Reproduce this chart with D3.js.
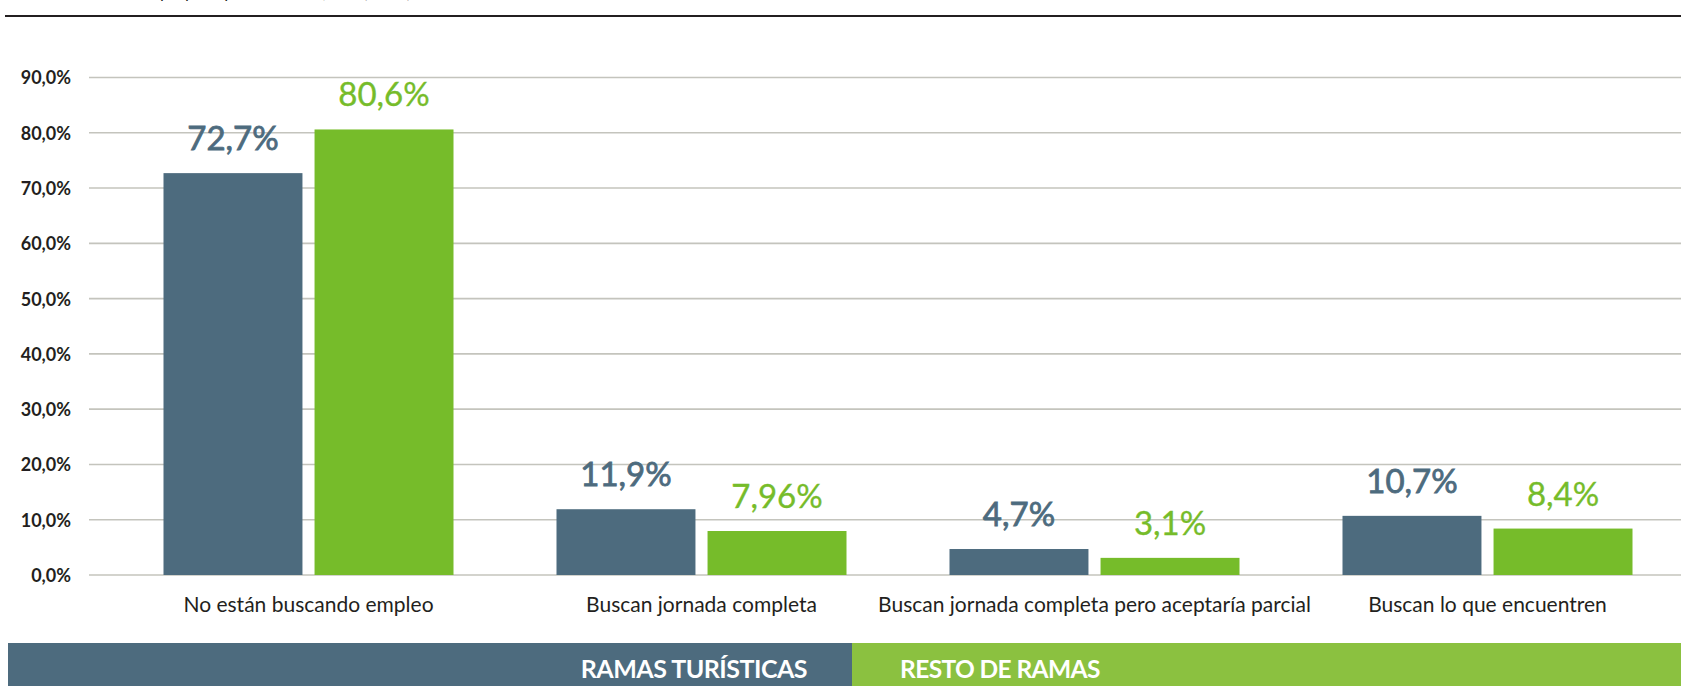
<!DOCTYPE html>
<html><head><meta charset="utf-8">
<script src="https://cdn.jsdelivr.net/npm/d3@7"></script>
<style>html,body{margin:0;padding:0;background:#fff;overflow:hidden}svg{display:block}</style>
</head><body><div id="chart"></div>
<script>
const categories = ["No están buscando empleo","Buscan jornada completa","Buscan jornada completa pero aceptaría parcial","Buscan lo que encuentren"];
const seriesNames = ["RAMAS TURÍSTICAS","RESTO DE RAMAS"];
const turisticas = [72.7, 11.9, 4.7, 10.7];
const resto = [80.6, 7.96, 3.1, 8.4];
const valueLabelsTur = ["72,7%","11,9%","4,7%","10,7%"];
const valueLabelsResto = ["80,6%","7,96%","3,1%","8,4%"];
const yTicks = [0,10,20,30,40,50,60,70,80,90];
const sourceText = "Fuente: Elaboración propia a partir de EPA, INE (2023)";

const W = 1681, H = 686;
const barColors = ["#4d6b7e","#76bc2a"];
const legendColors = ["#4d6b7e","#8bc140"];
const svg = d3.select("#chart").append("svg").attr("width",W).attr("height",H);

// top rule and cut source text
svg.append("text").attr("x",8).attr("y",-2).attr("font-family","Lato").attr("font-size",17).attr("fill","#231f20").text(sourceText);
svg.append("line").attr("x1",5).attr("x2",W).attr("y1",16).attr("y2",16).attr("stroke","#231f20").attr("stroke-width",2);

const y = d3.scaleLinear().domain([0,90]).range([575,77.5]);
const x0 = d3.scaleBand().domain(categories).range([112,1684]);
const groupW = 290;
const x1 = d3.scaleBand().domain(seriesNames).range([0,groupW]).paddingInner(0.08);

// gridlines
svg.append("g").selectAll("line").data(yTicks).join("line")
  .attr("x1",89).attr("x2",W).attr("y1",d=>y(d)).attr("y2",d=>y(d))
  .attr("stroke","#c4c4bd").attr("stroke-width",1.6);

// y axis labels
const yAxis = d3.axisLeft(y).tickValues(yTicks).tickSize(0).tickPadding(0)
  .tickFormat(d=>d3.format(".1f")(d).replace(".",",")+"%");
const ga = svg.append("g").attr("transform","translate(71,0)").call(yAxis);
ga.select(".domain").remove();
ga.selectAll("text").attr("font-family","Lato").attr("font-weight","bold").attr("font-size",18).attr("fill","#231f20").attr("dy","0.36em");

const data = categories.map((c,i)=>({cat:c, vals:[
  {s:seriesNames[0], v:turisticas[i], lab:valueLabelsTur[i], k:0},
  {s:seriesNames[1], v:resto[i], lab:valueLabelsResto[i], k:1}]}));

const groups = svg.append("g").selectAll("g").data(data).join("g")
  .attr("transform",d=>`translate(${x0(d.cat)+(x0.bandwidth()-groupW)/2},0)`);
groups.selectAll("rect").data(d=>d.vals).join("rect")
  .attr("x",d=>x1(d.s)).attr("width",x1.bandwidth())
  .attr("y",d=>y(d.v)).attr("height",d=>y(0)-y(d.v))
  .attr("fill",d=>barColors[d.k]);
groups.selectAll("text.val").data(d=>d.vals).join("text").attr("class","val")
  .attr("x",d=>x1(d.s)+x1.bandwidth()/2).attr("y",d=>y(d.v)-23)
  .attr("text-anchor","middle").attr("font-family","Lato").attr("font-size",33)
  .attr("fill",d=>barColors[d.k])
  .attr("stroke",d=>barColors[d.k]).attr("stroke-width",d=>d.k===0?0.8:0.35)
  .text(d=>d.lab);

// category labels
svg.append("g").selectAll("text").data(categories).join("text")
  .attr("x",d=>x0(d)+x0.bandwidth()/2).attr("y",612)
  .attr("text-anchor","middle").attr("font-family","Lato").attr("font-size",21)
  .attr("fill","#231f20").text(d=>d);

// legend band
const split = 852;
const lg = svg.append("g");
lg.append("rect").attr("x",8).attr("y",643).attr("width",split-8).attr("height",H-643).attr("fill",legendColors[0]);
lg.append("rect").attr("x",split).attr("y",643).attr("width",W-split).attr("height",H-643).attr("fill",legendColors[1]);
lg.append("text").attr("x",807).attr("y",678).attr("text-anchor","end").attr("font-family","Lato").attr("font-weight","bold").attr("font-size",25).attr("letter-spacing","-0.5").attr("fill","#fff").text(seriesNames[0]);
lg.append("text").attr("x",900).attr("y",678).attr("text-anchor","start").attr("font-family","Lato").attr("font-weight","bold").attr("font-size",24.5).attr("letter-spacing","-0.6").attr("fill","#fff").text(seriesNames[1]);
</script></body></html>
